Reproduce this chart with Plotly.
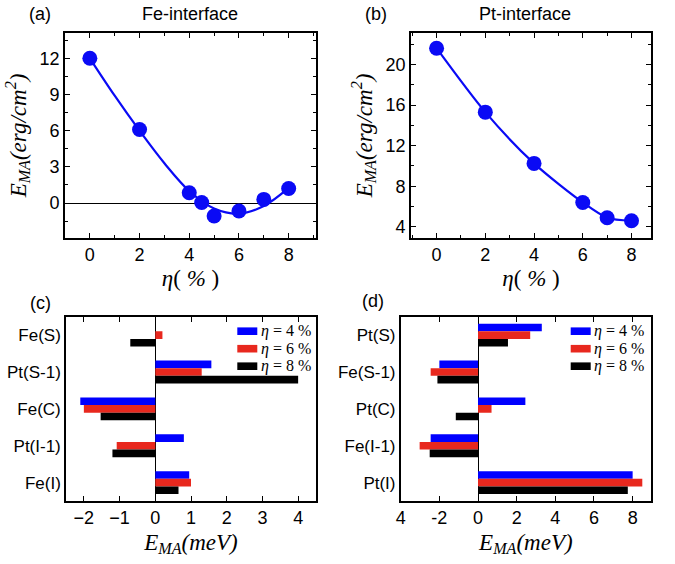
import plotly.graph_objects as go
from plotly.subplots import make_subplots

# ---------------- data ----------------
# (a) Fe-interface
eta_a = [0, 2, 4, 4.5, 5, 6, 7, 8]
ema_a = [12.0, 6.1, 0.85, 0.05, -1.08, -0.66, 0.3, 1.2]
fit_eta_a = [0, 1, 2, 3, 4, 5, 6, 7, 8]
fit_ema_a = [12.0, 8.9, 6.0, 3.3, 1.0, -0.45, -0.88, -0.25, 1.25]
# (b) Pt-interface
eta_b = [0, 2, 4, 6, 7, 8]
ema_b = [21.6, 15.3, 10.25, 6.4, 4.9, 4.6]
# (c) layer-resolved, Fe-interface
sites_c = ["Fe(S)", "Pt(S-1)", "Fe(C)", "Pt(I-1)", "Fe(I)"]
c_eta4 = [None, 1.57, -2.1, 0.8, 0.95]
c_eta6 = [0.2, 1.3, -2.0, -1.08, 1.0]
c_eta8 = [-0.7, 4.0, -1.53, -1.2, 0.65]
# (d) layer-resolved, Pt-interface
sites_d = ["Pt(S)", "Fe(S-1)", "Pt(C)", "Fe(I-1)", "Pt(I)"]
d_eta4 = [3.3, -2.0, 2.45, -2.45, 8.0]
d_eta6 = [2.7, -2.45, 0.7, -3.02, 8.5]
d_eta8 = [1.55, -2.1, -1.15, -2.5, 7.75]

series_names = ["<i>η</i> = 4 %", "<i>η</i> = 6 %", "<i>η</i> = 8 %"]
d_xticks = [-4, -2, 0, 2, 4, 6, 8]
d_xticktext = ["4", "-2", "0", "2", "4", "6", "8"]

# ---------------- style ----------------
W, H = 675, 564
BLUE = "#0a0af5"
BAR_COLORS = ["#0000ff", "#e8281e", "#000000"]
SANS = "Liberation Sans"
SERIF = "Liberation Serif"

def px(x0, x1):
    return [x0 / W, x1 / W]

def py(top, bottom):
    return [1 - bottom / H, 1 - top / H]

fig = make_subplots(rows=2, cols=2)

# (a)
fig.add_trace(go.Scatter(x=fit_eta_a, y=fit_ema_a, mode="lines",
                         line=dict(color=BLUE, width=2.2, shape="spline", smoothing=1.0),
                         showlegend=False, hoverinfo="skip"), row=1, col=1)
fig.add_trace(go.Scatter(x=eta_a, y=ema_a, mode="markers", marker=dict(color=BLUE, size=15),
                         showlegend=False), row=1, col=1)
# (b)
fig.add_trace(go.Scatter(x=eta_b, y=ema_b, mode="lines+markers",
                         line=dict(color=BLUE, width=2.2, shape="spline", smoothing=0.8),
                         marker=dict(color=BLUE, size=15), showlegend=False), row=1, col=2)
# (c)
for vals, col, name in zip([c_eta4, c_eta6, c_eta8], BAR_COLORS, series_names):
    fig.add_trace(go.Bar(y=sites_c, x=vals, orientation="h", marker=dict(color=col, line=dict(width=0)),
                         name=name, showlegend=False), row=2, col=1)
# (d)
for vals, col, name in zip([d_eta4, d_eta6, d_eta8], BAR_COLORS, series_names):
    fig.add_trace(go.Bar(y=sites_d, x=vals, orientation="h", marker=dict(color=col, line=dict(width=0)),
                         name=name, showlegend=False), row=2, col=2)

axis_common = dict(showline=True, linecolor="black", linewidth=1.6, mirror="ticks",
                   ticks="inside", ticklen=5, tickwidth=1.3, tickcolor="black",
                   showgrid=False, automargin=False,
                   tickfont=dict(family=SANS, size=18, color="black"))

t_font = dict(family=SERIF, size=23, color="black")

fig.update_layout(
    width=W, height=H, margin=dict(l=0, r=0, t=0, b=0, autoexpand=False),
    paper_bgcolor="white", plot_bgcolor="white",
    barmode="group", bargap=0.38, bargroupgap=0,
    xaxis=dict(domain=px(65, 316), range=[-1, 9.1], tick0=0, dtick=2, zeroline=False,
               minor=dict(dtick=1, ticks="inside", ticklen=3, tickcolor="black"),
               title=dict(text="<i>η</i>( <i>%</i> )", font=t_font, standoff=5), **axis_common),
    yaxis=dict(domain=py(33, 238), range=[-2.9, 14.1], tick0=0, dtick=3,
               zeroline=True, zerolinecolor="black", zerolinewidth=1.3,
               minor=dict(dtick=1.5, ticks="inside", ticklen=3, tickcolor="black"),
               title=dict(text="<i>E<sub>MA</sub>(erg/cm<sup>2</sup>)</i>", font=t_font, standoff=7),
               **axis_common),
    xaxis2=dict(domain=px(411, 651), range=[-1.05, 8.8], tick0=0, dtick=2, zeroline=False,
                minor=dict(dtick=1, ticks="inside", ticklen=3, tickcolor="black"),
                title=dict(text="<i>η</i>( <i>%</i> )", font=t_font, standoff=5), **axis_common),
    yaxis2=dict(domain=py(33, 238), range=[2.9, 23.1], tick0=0, dtick=4, zeroline=False,
                minor=dict(dtick=2, ticks="inside", ticklen=3, tickcolor="black"),
                title=dict(text="<i>E<sub>MA</sub>(erg/cm<sup>2</sup>)</i>", font=t_font, standoff=7),
                **axis_common),
    xaxis3=dict(domain=px(66, 316), range=[-2.5, 4.5], tick0=0, dtick=1,
                zeroline=True, zerolinecolor="black", zerolinewidth=1.3,
                title=dict(text="<i>E<sub>MA</sub>(meV)</i>", font=t_font, standoff=6), **axis_common),
    yaxis3=dict(domain=py(316.7, 501), range=[4.5, -0.5], type="category", showline=True, linecolor="black",
                linewidth=1.6, mirror=True, ticks="", showgrid=False, automargin=False,
                tickfont=dict(family=SANS, size=17, color="black")),
    xaxis4=dict(domain=px(400.7, 651), range=[-4, 8.95], tickvals=d_xticks, ticktext=d_xticktext,
                zeroline=True, zerolinecolor="black", zerolinewidth=1.3,
                title=dict(text="<i>E<sub>MA</sub>(meV)</i>", font=t_font, standoff=6), **axis_common),
    yaxis4=dict(domain=py(316.7, 501), range=[4.5, -0.5], type="category", showline=True, linecolor="black",
                linewidth=1.6, mirror=True, ticks="", showgrid=False, automargin=False,
                tickfont=dict(family=SANS, size=17, color="black")),
)

# panel labels and titles
lab_font = dict(family=SANS, size=18, color="black")
for text, xp, ypx in [("(a)", 40, 14), ("(b)", 376, 14), ("(c)", 40, 303), ("(d)", 373, 301),
                      ("Fe-interface", 190, 14), ("Pt-interface", 525, 14)]:
    fig.add_annotation(text=text, x=xp / W, y=1 - ypx / H, xref="paper", yref="paper",
                       showarrow=False, font=lab_font, xanchor="center", yanchor="middle")

# manual legends (wide swatches)
leg_font = dict(family=SERIF, size=16, color="black")
for (sx0, tx) in [(237.3, 258.5), (570.7, 591.5)]:
    for i, (col, name) in enumerate(zip(BAR_COLORS, series_names)):
        yc = 331.2 + i * 17.5
        fig.add_shape(type="rect", xref="paper", yref="paper",
                      x0=sx0 / W, x1=(sx0 + 20) / W, y0=1 - (yc + 3.8) / H, y1=1 - (yc - 3.8) / H,
                      fillcolor=col, line=dict(width=0))
        fig.add_annotation(text=name, x=tx / W, y=1 - yc / H, xref="paper", yref="paper",
                           showarrow=False, font=leg_font, xanchor="left", yanchor="middle")

fig.write_html("out.html", config={"displayModeBar": False},
               post_script="document.body.style.margin='0';document.body.style.overflow='hidden';")
